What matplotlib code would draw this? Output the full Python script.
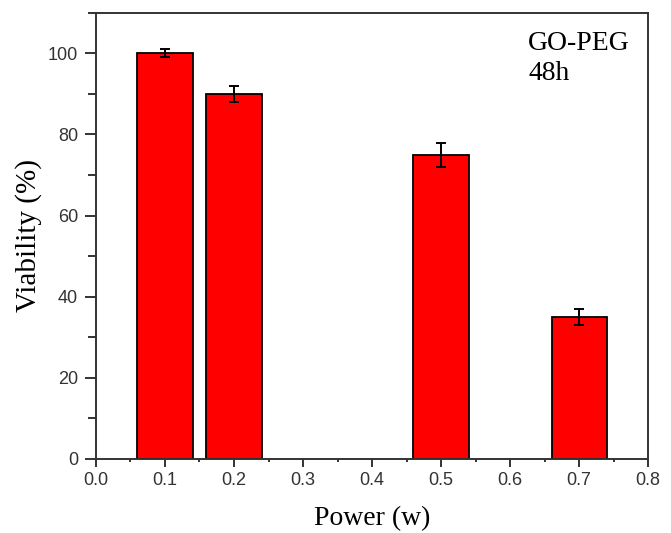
import numpy as np
import matplotlib.pyplot as plt
from matplotlib.ticker import MultipleLocator

# data
power = [0.1, 0.2, 0.5, 0.7]
viability = [100, 90, 75, 35]
err = [1, 2, 3, 2]

fig = plt.figure(figsize=(6.71, 5.33), dpi=100)
ax = fig.add_axes([0.143, 0.139, 0.823, 0.837])

ax.bar(power, viability, width=0.08, color='#ff0000', edgecolor='black', linewidth=1.3,
       yerr=err, capsize=3.5, error_kw=dict(ecolor='black', elinewidth=1.4, capthick=1.4))

ax.set_xlim(0, 0.8)
ax.set_ylim(0, 110)
ax.xaxis.set_major_locator(MultipleLocator(0.1))
ax.xaxis.set_minor_locator(MultipleLocator(0.05))
ax.yaxis.set_major_locator(MultipleLocator(20))
ax.yaxis.set_minor_locator(MultipleLocator(10))
ax.set_xticklabels([f"{v:.1f}" for v in ax.get_xticks()])

for s in ax.spines.values():
    s.set_linewidth(1.4)
    s.set_color('#333333')
ax.tick_params(which='both', width=1.4, color='#333333', direction='out')
ax.tick_params(axis='x', which='major', length=5.5, pad=4)
ax.tick_params(axis='x', which='minor', length=2.5)
ax.tick_params(axis='y', which='major', length=8, pad=5)
ax.tick_params(axis='y', which='minor', length=6)
ax.tick_params(which='major', labelsize=13, labelcolor='#333333')
for lab in ax.get_xticklabels() + ax.get_yticklabels():
    lab.set_family('Liberation Sans')

ax.set_xlabel("Power (w)", family='Liberation Serif', fontsize=20, labelpad=12)
ax.set_ylabel("Viability (%)", family='Liberation Serif', fontsize=21, labelpad=4)

ax.text(0.783, 0.897, "GO-PEG\n48h", transform=ax.transAxes, family='Liberation Serif',
        fontsize=20, va='center', ha='left', linespacing=1.28)

fig.savefig("out.png", dpi=100)
